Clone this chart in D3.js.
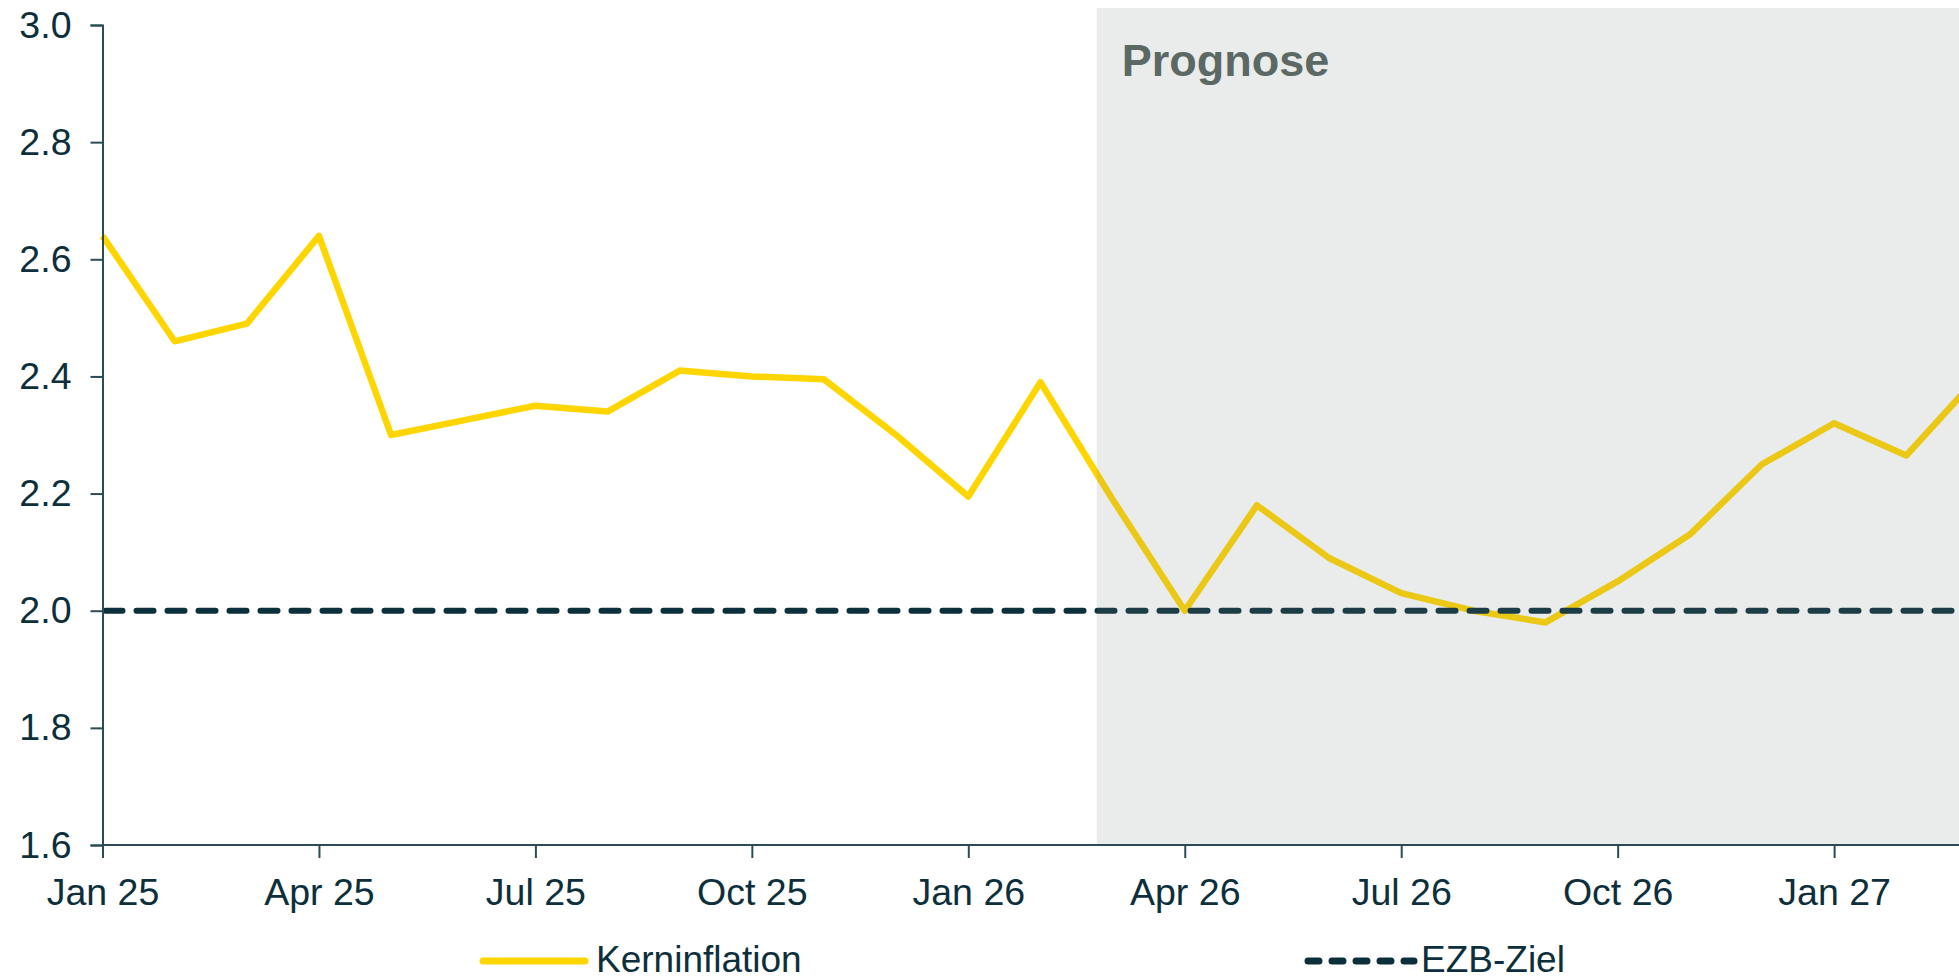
<!DOCTYPE html>
<meta charset="utf-8">
<style>
  body { margin: 0; background: #fff; }
  svg text { font-family: "Liberation Sans", Arial, sans-serif; }
</style>
<script src="https://cdn.jsdelivr.net/npm/d3@7"></script>

<div id="my_dataviz"></div>

<script>

// monthly categories, Jan 25 .. Mar 27
var months = ["Jan 25","Feb 25","Mar 25","Apr 25","May 25","Jun 25","Jul 25","Aug 25","Sep 25","Oct 25","Nov 25","Dec 25",
              "Jan 26","Feb 26","Mar 26","Apr 26","May 26","Jun 26","Jul 26","Aug 26","Sep 26","Oct 26","Nov 26","Dec 26",
              "Jan 27","Feb 27","Mar 27"];

// core inflation (Kerninflation), % y/y
var kern = [2.64, 2.46, 2.49, 2.64, 2.30, 2.325, 2.35, 2.34, 2.41, 2.40, 2.395, 2.30,
            2.195, 2.39, 2.19, 2.00, 2.18, 2.09, 2.03, 2.00, 1.98, 2.05, 2.13, 2.25,
            2.32, 2.265, 2.40];

// ECB target (EZB-Ziel)
var ezb = months.map(function() { return 2.0; });

var xTicks = ["Jan 25","Apr 25","Jul 25","Oct 25","Jan 26","Apr 26","Jul 26","Oct 26","Jan 27"];
var yTicks = [1.6, 1.8, 2.0, 2.2, 2.4, 2.6, 2.8, 3.0];

var forecastFrom = 13.78;   // shaded forecast zone starts between Feb 26 and Mar 26

var W = 1959, H = 980;
var margin = {left: 102.5, top: 25, bottom: 845};

var svg = d3.select("#my_dataviz")
  .append("svg")
    .attr("width", W)
    .attr("height", H);

var x = d3.scaleLinear()
  .domain([0, 26])
  .range([margin.left, margin.left + 26 * 72.15]);

var y = d3.scaleLinear()
  .domain([1.6, 3.0])
  .range([margin.bottom, margin.top]);

var textCol = "#0d2f3c";
var axisCol = "#2b4b57";

// core inflation line
svg.append("path")
  .datum(kern)
  .attr("fill", "none")
  .attr("stroke", "#ffd500")
  .attr("stroke-width", 6.5)
  .attr("stroke-linejoin", "round")
  .attr("d", d3.line()
    .x(function(d, i) { return x(i); })
    .y(function(d) { return y(d); }));

// ECB target, dashed
svg.append("path")
  .datum(ezb)
  .attr("fill", "none")
  .attr("stroke", "#0b2f3b")
  .attr("stroke-width", 6)
  .attr("stroke-linecap", "round")
  .attr("stroke-dasharray", "17,14")
  .attr("d", d3.line()
    .x(function(d, i) { return x(i) + (i == 0 ? 3 : 0); })
    .y(function(d) { return y(d); }));

// forecast shading, laid over the lines
svg.append("rect")
  .attr("x", x(forecastFrom))
  .attr("y", 8)
  .attr("width", W - x(forecastFrom))
  .attr("height", margin.bottom - 8)
  .attr("fill", "#7e8683")
  .attr("fill-opacity", 0.16);

svg.append("text")
  .attr("x", x(forecastFrom) + 25)
  .attr("y", 76)
  .attr("font-size", "45px")
  .attr("font-weight", "bold")
  .attr("fill", "#5b6864")
  .text("Prognose");

// axes
var yAxis = svg.append("g")
  .attr("transform", "translate(" + margin.left + ",0)")
  .call(d3.axisLeft(y).tickValues(yTicks).tickSize(12).tickPadding(19)
    .tickFormat(d3.format(".1f")));

var xAxis = svg.append("g")
  .attr("transform", "translate(0," + margin.bottom + ")")
  .call(d3.axisBottom(x)
    .tickValues(xTicks.map(function(m) { return months.indexOf(m); }))
    .tickSize(13).tickPadding(20)
    .tickFormat(function(i) { return months[i]; }));

xAxis.select(".domain").attr("d", "M" + margin.left + ",0H" + W);

[yAxis, xAxis].forEach(function(g) {
  g.selectAll(".domain, line").attr("stroke", axisCol).attr("stroke-width", 2);
  g.selectAll("text")
    .attr("fill", textCol)
    .style("font-family", "'Liberation Sans', Arial, sans-serif")
    .style("font-size", "37.5px");
});

// legend
var legend = svg.append("g");
legend.append("line")
  .attr("x1", 483).attr("x2", 585).attr("y1", 961).attr("y2", 961)
  .attr("stroke", "#ffd500").attr("stroke-width", 7).attr("stroke-linecap", "round");
legend.append("text")
  .attr("x", 596).attr("y", 972)
  .attr("font-size", "37px").attr("fill", textCol)
  .text("Kerninflation");

legend.append("line")
  .attr("x1", 1308).attr("x2", 1414).attr("y1", 961).attr("y2", 961)
  .attr("stroke", "#0b2f3b").attr("stroke-width", 7)
  .attr("stroke-linecap", "round").attr("stroke-dasharray", "11,13");
legend.append("text")
  .attr("x", 1421).attr("y", 972)
  .attr("font-size", "37px").attr("fill", textCol)
  .text("EZB-Ziel");

</script>
